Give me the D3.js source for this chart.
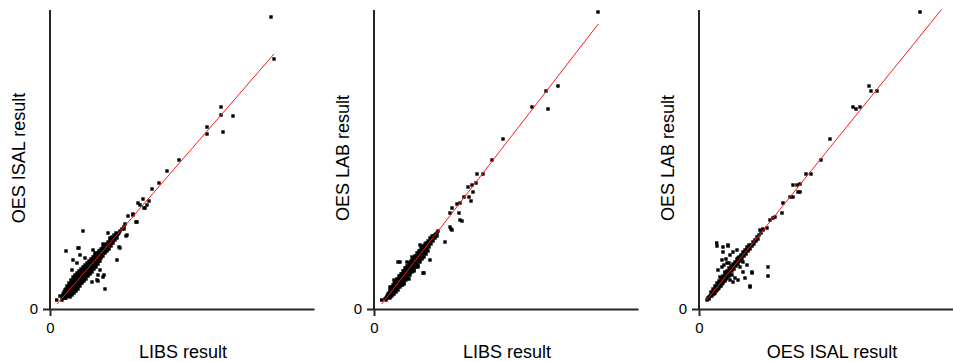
<!DOCTYPE html>
<html>
<head>
<meta charset="utf-8">
<script src="https://cdn.jsdelivr.net/npm/d3@7"></script>
<style>
  html,body{margin:0;padding:0;background:#fff}
  svg{display:block}
  text{font-family:Arial,"Liberation Sans",sans-serif;fill:#000}
</style>
</head>
<body>
<svg id="chart" width="953" height="362"></svg>
<script>
// axis titles per panel
const xTitles = ['LIBS result', 'LIBS result', 'OES ISAL result'];
const yTitles = ['OES ISAL result', 'OES LAB result', 'OES LAB result'];

// fitted regression lines (slope, intercept, x-range)
const fitSlope = [1.152, 1.293, 1.237];
const fitIntercept = [-3.06, -4.96, -0.52];
const fitStart = [7, 7.7, 7.7];
const fitEnd = [224, 224.3, 242.7];

// panel 1: LIBS vs OES ISAL
const libsIsal = [
  [12,12],[13,15],[12,9],[14,13],[14,17],[15,11],[15,19],
  [16,15],[16,20],[17,13],[17,23],[16,11],[18,18],[18,22],[19,15],[19,26],[18,13],
  [20,20],[20,25],[21,17],[21,29],[20,14],[21,23],[22,22],[22,27],[23,19],[23,32],[22,17],[23,25],
  [24,25],[24,30],[25,21],[25,34],[24,19],[25,28],[26,27],[26,32],[27,23],[27,36],[26,21],[27,30],
  [28,29],[28,34],[29,26],[29,38],[28,23],[29,32],[30,32],[30,36],[31,28],[31,40],[30,26],[31,34],
  [32,34],[32,38],[33,30],[33,42],[32,29],[33,36],[34,36],[34,40],[35,33],[35,44],[34,31],[35,38],
  [36,38],[36,42],[37,35],[37,46],[36,33],[37,40],[38,41],[38,45],[39,37],[39,48],[38,36],[39,43],
  [40,43],[40,47],[41,39],[41,50],[40,38],[41,45],[42,45],[42,49],[43,41],[43,52],[42,40],[43,47],
  [44,48],[44,52],[45,44],[45,54],[44,43],[46,50],[46,54],[47,46],[47,56],[46,45],
  [48,52],[48,56],[49,48],[49,58],[50,55],[50,58],[51,51],[51,60],[52,57],[52,60],[53,53],[53,62],
  [54,59],[54,63],[55,56],[56,61],[56,65],[57,58],[58,64],[58,67],[59,60],[60,66],[60,69],[61,63],
  [62,68],[63,66],[64,71],[65,69],[66,73],[67,71],[68,75],[70,78],[62,72],[64,74],[66,76],[60,71],
  [72,80],[74,82],
  [13,11],[15,14],[17,17],[19,19],[21,21],[23,23],[25,25],[27,27],[29,30],[31,32],[33,34],[35,36],
  [37,38],[39,39],[41,42],[43,44],[45,46],[47,49],[49,51],[51,53],[53,56],[55,59],[57,61],[59,64],
  [61,66],[63,69],[65,72],[67,74],[69,76],
  [15,16],[17,19],[19,22],[21,26],[23,28],[25,31],[27,33],[29,35],[31,37],[33,39],[35,41],[37,43],
  [39,45],[41,47],[43,50],[45,51],[47,53],[49,55],[51,57],[53,59],
  [20,12],[22,14],[24,16],[26,18],[28,20],[30,23],[32,26],[34,28],[36,30],[38,33],[40,35],[42,37],
  [44,40],[46,42],[48,45],[50,48],
  [6.7,9],[10,13],[23,49],[22,39],[30,54],[33,78],[16,58],[28,61],[27,46],[35,51],[43,59],[45,56],
  [53,65],[58,76],[48,34],[53,32],[55,20],[47,29],[42,27],[50,39],[67,49],[70,61],[77,74],[83,94],
  [87,87],[88,106],[54,34],[48,28],[29,61],[69,62],[74,80],[76,73],[75,85],[78,93],[83,95],[86,87],
  [93,110],[97,104],[99,108],[94,101],[90,104],[95,101],[102,120],[109,126],[117,138],[129,149],
  [157,175],[157,182],[173,177],[171,194],[171,202],[183,193],[224,250],[221,292]
];

// panel 2: LIBS vs OES LAB
const libsLab = [
  [12,11],[13,13],[12,9],[14,13],[15,16],[15,12],[14,15],
  [16,16],[16,19],[17,15],[17,21],[16,13],[18,18],[18,22],[19,17],[19,24],[18,15],
  [20,21],[20,25],[21,19],[21,27],[20,17],[22,23],[22,27],[23,21],[23,30],[22,19],[23,25],
  [24,26],[24,30],[25,24],[25,33],[24,22],[25,28],[26,29],[26,33],[27,26],[27,35],[26,24],[27,31],
  [28,31],[28,35],[29,29],[29,38],[28,27],[29,33],[30,34],[30,38],[31,31],[31,41],[30,29],[31,36],
  [32,36],[32,41],[33,34],[33,43],[32,32],[33,38],[34,39],[34,43],[35,36],[35,46],[34,35],[35,41],
  [36,42],[36,46],[37,39],[37,48],[36,37],[37,44],[38,44],[38,48],[39,42],[39,51],[38,40],[39,46],
  [40,47],[40,51],[41,44],[41,53],[40,42],[42,49],[42,53],[43,47],[43,56],[42,45],
  [44,52],[44,56],[45,49],[45,58],[44,48],[46,55],[46,58],[47,52],[47,61],
  [48,57],[48,61],[49,55],[49,63],[50,60],[50,63],[51,57],[51,65],[52,62],[52,66],[53,60],
  [54,65],[54,68],[55,62],[56,67],[56,71],[57,65],[58,70],[58,73],[59,68],[60,73],[61,71],
  [62,75],[63,73],[64,78],
  [13,11],[15,14],[17,17],[19,20],[21,22],[23,24],[25,27],[27,29],[29,32],[31,34],[33,37],[35,39],
  [37,42],[39,44],[41,47],[43,50],[45,53],[47,56],[49,58],[51,61],[53,64],[55,66],[57,69],[59,71],
  [61,74],[63,76],
  [16,11],[18,13],[20,15],[22,17],[24,19],[26,22],[28,24],[30,26],[32,29],[34,31],[36,34],[38,37],
  [40,39],[42,42],[44,44],[46,47],[48,50],[50,52],[52,55],[54,58],
  [7.7,9],[11,10],[16,22],[24,47],[26,47],[46,64],[49,36],[50,36],[56,49],[71,67],[76,82],[78,79],
  [86,89],[30,25],[35,30],[28,24],[40,38],[44,42],[33,47],[20,29],[38,52],
  [76,96],[77,80],[78,101],[83,105],[86,106],[85,96],[88,88],[90,112],[95,112],[97,108],[99,117],
  [94,122],[98,124],[102,126],[103,135],[109,135],[118,149],[129,170],[158,202],[174,200],
  [172,218],[184,223],[224,297]
];

// panel 3: OES ISAL vs OES LAB
const isalLab = [
  [8,9],[9,11],[10,12],[11,13],[10,10],[12,14],[12,17],[13,13],[13,16],[14,17],[14,20],[15,15],[15,19],
  [16,19],[16,23],[17,18],[17,21],[16,16],[18,22],[18,26],[19,20],[19,24],[18,19],
  [20,24],[20,28],[21,23],[21,27],[20,21],[22,27],[22,31],[23,25],[23,29],[22,23],
  [24,29],[24,33],[25,28],[25,32],[24,26],[26,32],[26,36],[27,30],[27,34],[26,28],
  [28,34],[28,38],[29,33],[29,37],[28,31],[30,37],[30,41],[31,35],[31,39],[30,33],
  [32,39],[32,43],[33,38],[33,42],[34,42],[34,45],[35,40],[35,44],[36,44],[36,47],[37,43],[37,46],
  [38,47],[38,50],[39,45],[39,48],[40,49],[40,52],[41,48],[42,52],[42,54],[43,50],
  [44,54],[44,57],[45,53],[46,57],[46,59],[47,55],[48,59],[48,62],[49,58],[50,62],[50,64],[51,60],
  [52,64],[53,63],[54,67],[55,65],[56,69],[57,68],[58,72],[59,70],[60,74],[62,76],[64,79],
  [17.7,66],[29,64],[23,49],[24,57],[31,54],[34,57],[38,59],[19,39],[23,42],[28,46],[21,32],
  [41,42],[44,37],[46,31],[39,29],[51,22],[53,37],[69,33],[31,29],[34,27],[26,37],[39,51],[44,47],
  [48,44],[24,62],[18,63],[29,63],[53,36],[51,23],[69,42],[27,50],[33,34],[36,31],[25,44],[30,46],
  [61,79],[64,80],[68,81],[71,89],[74,91],[76,92],[83,96],[84,106],[91,112],[94,112],[99,117],
  [101,117],[94,124],[98,124],[101,125],[107,135],[112,135],[122,149],[131,170],[154,202],[157,200],
  [161,202],[170,223],[172,218],[178,218],[221,297]
];

const panels = [libsIsal, libsLab, isalLab];
const panelX0 = [50, 374, 699];

const svg = d3.select('#chart');
const plotTop = 10, plotBase = 309;
const pointSize = 3.4;

panels.forEach((pts, i) => {
  const x0 = panelX0[i];
  const x = d3.scaleLinear().domain([0, 264]).range([x0, x0 + 264]);
  const y = d3.scaleLinear().domain([0, 299]).range([plotBase, plotTop]);
  const g = svg.append('g');

  // points
  g.selectAll('rect.pt').data(pts).enter().append('rect')
    .attr('class', 'pt')
    .attr('x', d => x(d[0]) - pointSize / 2).attr('y', d => y(d[1]) - pointSize / 2)
    .attr('width', pointSize).attr('height', pointSize)
    .attr('fill', '#000');

  // fit line
  g.append('line')
    .attr('x1', x(fitStart[i])).attr('y1', y(fitSlope[i] * fitStart[i] + fitIntercept[i]))
    .attr('x2', x(fitEnd[i])).attr('y2', y(fitSlope[i] * fitEnd[i] + fitIntercept[i]))
    .attr('stroke', '#ff1a1a').attr('stroke-width', 1);

  // axes
  const ax = g.append('g').attr('transform', `translate(0,${plotBase})`)
    .call(d3.axisBottom(x).tickValues([0]).tickFormat(d3.format('d')).tickSize(7).tickSizeOuter(0).tickPadding(6));
  const ay = g.append('g').attr('transform', `translate(${x0},0)`)
    .call(d3.axisLeft(y).tickValues([0]).tickFormat(d3.format('d')).tickSize(7).tickSizeOuter(0).tickPadding(5));
  [ax, ay].forEach(a => {
    a.selectAll('.domain, .tick line').attr('stroke', '#262626').attr('stroke-width', 2);
    a.selectAll('.tick text').attr('fill', '#000').style('font-size', '15px')
      .style('font-family', 'Arial,"Liberation Sans",sans-serif');
  });
  ay.select('.domain').attr('d', `M0,${plotTop}V${plotBase}`);

  // titles
  g.append('text').attr('x', x0 + 133).attr('y', 358)
    .attr('text-anchor', 'middle').style('font-size', '18px').text(xTitles[i]);
  g.append('text').attr('transform', `translate(${x0 - 25},158) rotate(-90)`)
    .attr('text-anchor', 'middle').style('font-size', '18px').text(yTitles[i]);
});
</script>
</body>
</html>
